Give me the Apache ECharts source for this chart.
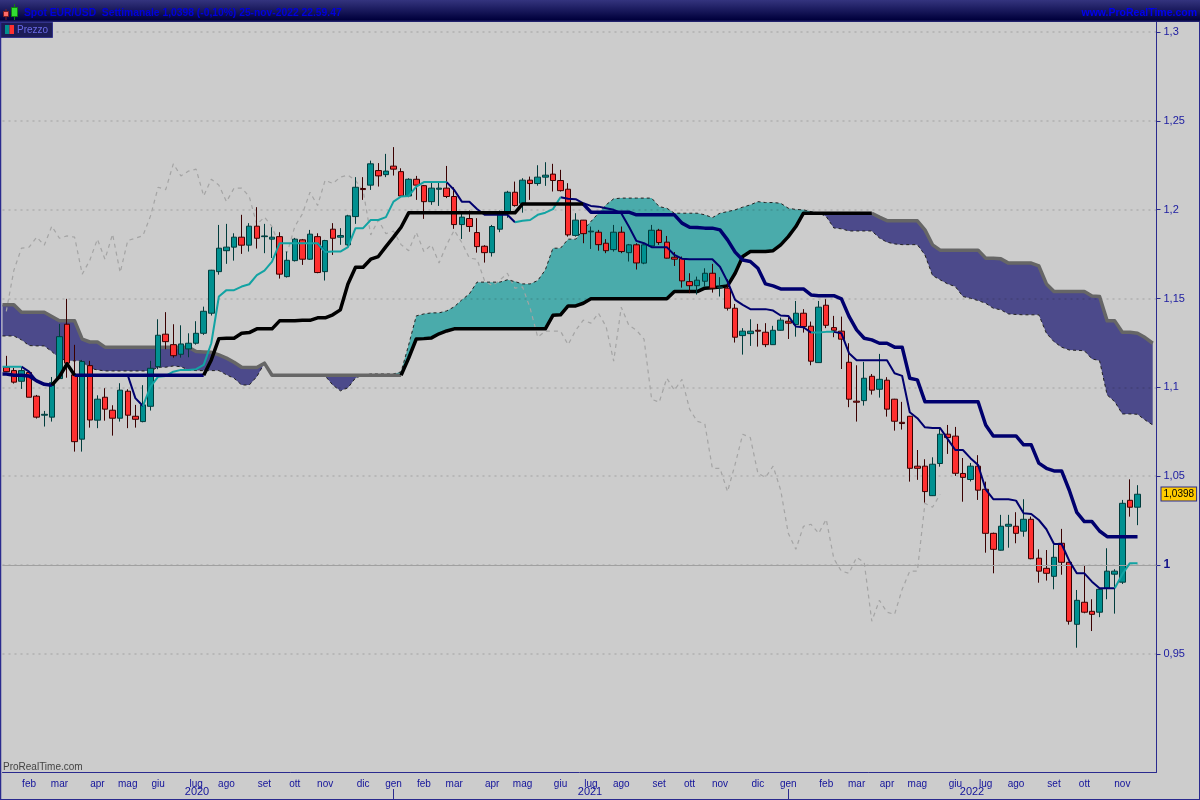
<!DOCTYPE html>
<html>
<head>
<meta charset="utf-8">
<title>Spot EUR/USD</title>
<style>
html, body { margin: 0; padding: 0; background: #cccccc; }
#chart { width: 1200px; height: 800px; }
</style>
<script src="https://cdn.jsdelivr.net/npm/echarts@6/dist/echarts.min.js"></script>
</head>
<body>
<div id="chart"></div>
<script>
// weekly candles, 150 weeks
var opens = [
1.1113,1.1094,1.1034,1.1083,1.0950,1.0843,1.0832,1.1049,1.1355,1.1070,
1.0708,1.1122,1.0815,1.0944,1.0871,1.0826,1.0978,1.0837,1.0807,1.0893,
1.1116,1.1299,1.1240,1.1186,1.1216,1.1248,1.1304,1.1417,1.1651,1.1769,
1.1789,1.1845,1.1800,1.1907,1.1848,1.1834,1.1848,1.1623,1.1713,1.1830,
1.1721,1.1848,1.1651,1.1890,1.1845,1.1802,1.1961,1.2119,1.2138,1.2220,
1.2197,1.2245,1.2214,1.2077,1.2171,1.2135,1.2045,1.2115,1.2121,1.2074,
1.1916,1.1950,1.1871,1.1794,1.1758,1.1890,1.1983,1.2098,1.2036,1.2166,
1.2147,1.2183,1.2200,1.2164,1.2115,1.1855,1.1941,1.1875,1.1873,1.1811,
1.1775,1.1873,1.1758,1.1802,1.1699,1.1796,1.1884,1.1817,1.1732,1.1724,
1.1595,1.1572,1.1597,1.1642,1.1560,1.1558,1.1445,1.1291,1.1302,1.1321,
1.1310,1.1240,1.1321,1.1372,1.1353,1.1417,1.1344,1.1139,1.1462,1.1336,
1.1316,1.1141,1.0922,1.0925,1.1062,1.0989,1.1040,1.0933,1.0803,1.0837,
1.0556,1.0556,1.0390,1.0571,1.0736,1.0725,1.0515,1.0481,1.0556,1.0426,
1.0178,1.0083,1.0218,1.0218,1.0190,1.0257,1.0038,0.9981,0.9936,1.0122,
1.0015,0.9666,0.9790,0.9739,0.9734,0.9869,0.9948,0.9903,1.0364,1.0325];
var closes = [
1.1088,1.1029,1.1094,1.0944,1.0832,1.0848,1.1026,1.1285,1.1136,1.0694,
1.1145,1.0816,1.0933,1.0877,1.0826,1.0984,1.0843,1.0820,1.0901,1.1107,
1.1293,1.1257,1.1178,1.1244,1.1248,1.1304,1.1428,1.1659,1.1783,1.1789,
1.1845,1.1800,1.1907,1.1839,1.1852,1.1845,1.1637,1.1715,1.1834,1.1721,
1.1862,1.1646,1.1826,1.1839,1.1854,1.1965,1.2126,1.2113,1.2258,1.2190,
1.2217,1.2228,1.2077,1.2171,1.2138,1.2045,1.2121,1.2121,1.2074,1.1916,
1.1958,1.1905,1.1792,1.1758,1.1905,1.1976,1.2098,1.2023,1.2166,1.2147,
1.2183,1.2194,1.2164,1.2107,1.1858,1.1941,1.1865,1.1879,1.1803,1.1769,
1.1873,1.1764,1.1802,1.1700,1.1802,1.1884,1.1815,1.1727,1.1721,1.1599,
1.1572,1.1603,1.1642,1.1558,1.1565,1.1445,1.1282,1.1316,1.1316,1.1316,
1.1240,1.1321,1.1378,1.1361,1.1417,1.1342,1.1147,1.1451,1.1349,1.1321,
1.1271,1.0933,1.0916,1.1051,1.0984,1.1045,1.0877,1.0809,1.0796,1.0544,
1.0544,1.0413,1.0567,1.0736,1.0717,1.0516,1.0493,1.0556,1.0421,1.0178,
1.0088,1.0218,1.0229,1.0178,1.0257,1.0035,0.9965,0.9953,1.0043,1.0015,
0.9683,0.9801,0.9734,0.9722,0.9863,0.9965,0.9965,1.0347,1.0325,1.0398];
var lows = [
1.1087,1.1021,1.0991,1.0944,1.0824,1.0779,1.0807,1.1047,1.1054,1.0638,
1.0638,1.0773,1.0770,1.0812,1.0728,1.0807,1.0770,1.0773,1.0803,1.0869,
1.1102,1.1214,1.1167,1.1167,1.1169,1.1240,1.1295,1.1404,1.1634,1.1695,
1.1713,1.1751,1.1764,1.1781,1.1755,1.1728,1.1612,1.1618,1.1708,1.1689,
1.1717,1.1642,1.1601,1.1745,1.1802,1.1796,1.1920,1.2055,1.2111,1.2130,
1.2183,1.2192,1.2074,1.2070,1.2055,1.1948,1.2027,1.2021,1.2065,1.1892,
1.1835,1.1875,1.1758,1.1702,1.1736,1.1873,1.1954,1.2017,1.1983,1.2055,
1.2135,1.2134,1.2102,1.2102,1.1848,1.1848,1.1811,1.1779,1.1769,1.1755,
1.1764,1.1755,1.1708,1.1663,1.1693,1.1792,1.1802,1.1725,1.1683,1.1561,
1.1530,1.1522,1.1567,1.1533,1.1511,1.1432,1.1252,1.1184,1.1233,1.1229,
1.1226,1.1239,1.1319,1.1272,1.1285,1.1308,1.1124,1.1137,1.1333,1.1282,
1.1103,1.0888,1.0807,1.0897,1.0959,1.0942,1.0835,1.0756,1.0762,1.0469,
1.0479,1.0351,1.0388,1.0553,1.0625,1.0501,1.0356,1.0470,1.0366,1.0069,
0.9953,1.0081,1.0097,1.0122,1.0159,1.0032,0.9900,0.9912,0.9863,0.9945,
0.9664,0.9534,0.9728,0.9628,0.9706,0.9807,0.9726,0.9893,1.0272,1.0224];
var highs = [
1.1177,1.1109,1.1115,1.1092,1.0957,1.0867,1.1058,1.1357,1.1498,1.1239,
1.1154,1.1149,1.0955,1.0995,1.0899,1.1023,1.0989,1.0901,1.1012,1.1149,
1.1383,1.1423,1.1355,1.1349,1.1304,1.1372,1.1454,1.1661,1.1914,1.1920,
1.1867,1.1971,1.1924,1.2014,1.1920,1.1901,1.1873,1.1764,1.1841,1.1835,
1.1886,1.1867,1.1830,1.1924,1.1896,1.1971,1.2183,1.2183,1.2276,1.2262,
1.2314,1.2352,1.2233,1.2177,1.2190,1.2139,1.2158,1.2158,1.2246,1.2126,
1.1989,1.1995,1.1952,1.1800,1.1914,1.1995,1.2106,1.2158,1.2177,1.2186,
1.2250,1.2267,1.2258,1.2224,1.2149,1.1980,1.1942,1.1905,1.1886,1.1834,
1.1914,1.1905,1.1807,1.1811,1.1805,1.1914,1.1892,1.1852,1.1761,1.1736,
1.1642,1.1623,1.1670,1.1695,1.1620,1.1608,1.1469,1.1333,1.1383,1.1357,
1.1361,1.1346,1.1392,1.1395,1.1486,1.1440,1.1370,1.1486,1.1496,1.1402,
1.1398,1.1248,1.1124,1.1143,1.1075,1.1188,1.1057,1.0935,1.0918,1.0839,
1.0647,1.0595,1.0606,1.0766,1.0788,1.0777,1.0602,1.0574,1.0618,1.0469,
1.0182,1.0282,1.0282,1.0297,1.0370,1.0272,1.0088,1.0084,1.0113,1.0203,
1.0017,0.9859,0.9998,0.9807,0.9871,1.0094,0.9976,1.0366,1.0482,1.0449];

// ichimoku lines
var tenkan = [
1.1116,1.1116,1.1116,1.1088,1.1036,1.1017,1.1012,1.1060,1.1132,1.1068,
1.1068,1.1068,1.1068,1.1068,1.1068,1.1068,1.1068,1.0939,1.0895,1.1004,
1.1060,1.1064,1.1088,1.1098,1.1098,1.1102,1.1126,1.1248,1.1511,1.1547,
1.1547,1.1567,1.1580,1.1631,1.1657,1.1708,1.1811,1.1811,1.1811,1.1811,
1.1811,1.1811,1.1761,1.1764,1.1764,1.1789,1.1896,1.1896,1.1942,1.1942,
1.1958,1.2045,1.2074,1.2077,1.2130,1.2155,1.2155,1.2155,1.2155,1.2111,
1.2045,1.2044,1.2004,1.1971,1.1971,1.1971,1.1971,1.1929,1.1938,1.1942,
1.1971,1.1983,1.2003,1.2070,1.2061,1.2059,1.2036,1.2021,1.2017,1.2008,
1.1999,1.1980,1.1905,1.1824,1.1811,1.1789,1.1789,1.1789,1.1745,1.1724,
1.1721,1.1721,1.1721,1.1721,1.1679,1.1595,1.1492,1.1464,1.1440,1.1440,
1.1440,1.1432,1.1404,1.1402,1.1342,1.1338,1.1308,1.1308,1.1312,1.1312,
1.1304,1.1192,1.1152,1.1152,1.1152,1.1152,1.1152,1.1079,1.1064,1.0860,
1.0826,1.0775,1.0771,1.0771,1.0708,1.0647,1.0647,1.0601,1.0563,1.0426,
1.0370,1.0370,1.0370,1.0362,1.0291,1.0287,1.0253,1.0201,1.0118,1.0118,
1.0024,0.9953,0.9953,0.9906,0.9869,0.9869,0.9869,0.9948,1.0010,1.0010];
var kijun = [
1.1075,1.1068,1.1068,1.1064,1.1036,1.1017,1.1012,1.1060,1.1132,1.1068,
1.1068,1.1068,1.1068,1.1068,1.1068,1.1068,1.1068,1.1068,1.1068,1.1068,
1.1068,1.1068,1.1068,1.1068,1.1068,1.1068,1.1068,1.1154,1.1274,1.1276,
1.1276,1.1304,1.1308,1.1329,1.1329,1.1329,1.1374,1.1374,1.1374,1.1377,
1.1377,1.1391,1.1391,1.1408,1.1436,1.1582,1.1676,1.1676,1.1721,1.1736,
1.1792,1.1845,1.1901,1.1982,1.1982,1.1982,1.1982,1.1982,1.1982,1.1982,
1.1982,1.1982,1.1982,1.1982,1.1982,1.1982,1.1982,1.1982,1.2032,1.2032,
1.2032,1.2032,1.2032,1.2032,1.2032,1.2032,1.2032,1.1986,1.1986,1.1986,
1.1986,1.1986,1.1986,1.1971,1.1971,1.1971,1.1971,1.1971,1.1971,1.1924,
1.1901,1.1899,1.1896,1.1896,1.1886,1.1830,1.1761,1.1717,1.1708,1.1670,
1.1582,1.1571,1.1554,1.1554,1.1554,1.1554,1.1520,1.1516,1.1516,1.1516,
1.1498,1.1399,1.1323,1.1276,1.1267,1.1248,1.1248,1.1226,1.1226,1.1051,
1.1042,1.0919,1.0919,1.0919,1.0919,1.0919,1.0919,1.0919,1.0919,1.0788,
1.0726,1.0726,1.0726,1.0726,1.0676,1.0676,1.0573,1.0544,1.0529,1.0529,
1.0422,1.0296,1.0244,1.0244,1.0191,1.0159,1.0159,1.0159,1.0159,1.0159];
var spanA = [
1.1289,1.1289,1.1267,1.1235,1.1233,1.1233,1.1201,1.1164,1.1149,1.1149,
1.1149,1.1107,1.1098,1.1092,1.1092,1.1092,1.1092,1.1092,1.1092,1.1092,
1.1113,1.1113,1.1120,1.1116,1.1098,1.1094,1.1094,1.1094,1.1094,1.1070,
1.1051,1.1013,1.1013,1.1060,1.1136,1.1068,1.1068,1.1068,1.1068,1.1068,
1.1068,1.1068,1.1064,1.1013,1.0980,1.0997,1.1053,1.1068,1.1075,1.1075,
1.1075,1.1075,1.1087,1.1239,1.1402,1.1413,1.1419,1.1419,1.1430,1.1453,
1.1492,1.1526,1.1592,1.1592,1.1592,1.1592,1.1605,1.1595,1.1582,1.1582,
1.1601,1.1661,1.1783,1.1783,1.1834,1.1834,1.1886,1.1933,1.1980,1.2027,
1.2061,1.2065,1.2065,1.2065,1.2065,1.2065,1.2017,1.2008,1.1980,1.1980,
1.1980,1.1980,1.1971,1.1955,1.1980,1.1989,1.1999,1.2014,1.2027,1.2045,
1.2040,1.2040,1.2036,1.2008,1.2001,1.1999,1.1989,1.1982,1.1961,1.1897,
1.1892,1.1880,1.1880,1.1880,1.1880,1.1841,1.1817,1.1807,1.1803,1.1803,
1.1803,1.1745,1.1629,1.1605,1.1582,1.1567,1.1511,1.1501,1.1488,1.1473,
1.1445,1.1436,1.1413,1.1410,1.1408,1.1408,1.1408,1.1304,1.1257,1.1226,
1.1210,1.1208,1.1206,1.1160,1.1150,1.0957,1.0919,1.0850,1.0850,1.0848,
1.0816,1.0788];
var spanB = [
1.1464,1.1464,1.1423,1.1423,1.1423,1.1423,1.1399,1.1374,1.1374,1.1374,
1.1271,1.1255,1.1255,1.1226,1.1226,1.1226,1.1226,1.1226,1.1226,1.1226,
1.1226,1.1226,1.1226,1.1226,1.1226,1.1201,1.1199,1.1197,1.1182,1.1164,
1.1141,1.1113,1.1111,1.1111,1.1136,1.1068,1.1068,1.1068,1.1068,1.1068,
1.1068,1.1068,1.1068,1.1068,1.1068,1.1068,1.1068,1.1068,1.1068,1.1068,
1.1068,1.1068,1.1068,1.1165,1.1272,1.1274,1.1278,1.1301,1.1317,1.1329,
1.1329,1.1329,1.1329,1.1329,1.1329,1.1329,1.1329,1.1329,1.1329,1.1329,
1.1329,1.1329,1.1405,1.1408,1.1458,1.1458,1.1473,1.1498,1.1498,1.1498,
1.1498,1.1498,1.1498,1.1498,1.1498,1.1498,1.1498,1.1498,1.1539,1.1539,
1.1539,1.1539,1.1558,1.1561,1.1565,1.1571,1.1642,1.1736,1.1764,1.1764,
1.1764,1.1769,1.1802,1.1848,1.1905,1.1980,1.1980,1.1980,1.1980,1.1980,
1.1980,1.1980,1.1980,1.1980,1.1980,1.1958,1.1938,1.1938,1.1938,1.1938,
1.1937,1.1886,1.1802,1.1772,1.1772,1.1772,1.1772,1.1772,1.1772,1.1727,
1.1727,1.1723,1.1699,1.1699,1.1699,1.1699,1.1683,1.1582,1.1539,1.1539,
1.1539,1.1539,1.1539,1.1514,1.1511,1.1374,1.1374,1.1310,1.1310,1.1304,
1.1280,1.1248];
var lagging = [
1.1428,1.1659,1.1783,1.1789,1.1845,1.1800,1.1907,1.1839,1.1852,1.1845,
1.1637,1.1715,1.1834,1.1721,1.1862,1.1646,1.1826,1.1839,1.1854,1.1965,
1.2126,1.2113,1.2258,1.2190,1.2217,1.2228,1.2077,1.2171,1.2138,1.2045,
1.2121,1.2121,1.2074,1.1916,1.1958,1.1905,1.1792,1.1758,1.1905,1.1976,
1.2098,1.2023,1.2166,1.2147,1.2183,1.2194,1.2164,1.2107,1.1858,1.1941,
1.1865,1.1879,1.1803,1.1769,1.1873,1.1764,1.1802,1.1700,1.1802,1.1884,
1.1815,1.1727,1.1721,1.1599,1.1572,1.1603,1.1642,1.1558,1.1565,1.1445,
1.1282,1.1316,1.1316,1.1316,1.1240,1.1321,1.1378,1.1361,1.1417,1.1342,
1.1147,1.1451,1.1349,1.1321,1.1271,1.0933,1.0916,1.1051,1.0984,1.1045,
1.0877,1.0809,1.0796,1.0544,1.0544,1.0413,1.0567,1.0736,1.0717,1.0516,
1.0493,1.0556,1.0421,1.0178,1.0088,1.0218,1.0229,1.0178,1.0257,1.0035,
0.9965,0.9953,1.0043,1.0015,0.9683,0.9801,0.9734,0.9722,0.9863,0.9965,
0.9965,1.0347,1.0325,1.0398];

// which stretch of each line has which colour (week index, inclusive)
var tenkanTealRanges = [[-1,2],[18,41],[42,58],[67,73],[106,109],[146,149]];
var tenkanNavyRanges = [[2,18],[41,42],[58,67],[73,106],[109,146]];
var kijunBlackRanges = [[6,9],[26,76]];
var kijunNavyRanges = [[-1,6],[9,26],[76,149]];
var spanBBlackRanges = [[52,114]];
var spanBGreyRanges = [[-1,52],[114,151]];

// x axis: the week where each month starts
var monthWeeks = [3,7,12,16,20,25,29,34,38,42,47,51,55,59,64,68,73,77,81,86,90,94,99,103,108,112,116,120,125,129,133,138,142,147];
var monthNames = ['feb','mar','apr','mag','giu','lug','ago','set','ott','nov','dic','gen','feb','mar','apr','mag','giu','lug','ago','set','ott','nov','dic','gen','feb','mar','apr','mag','giu','lug','ago','set','ott','nov'];
var lastTickWeek = 151;
var weekCount = 152;
var priceTicks = [0.95, 1, 1.05, 1.1, 1.15, 1.2, 1.25, 1.3];
var gridTicks = [0.95, 1.05, 1.1, 1.15, 1.2, 1.25, 1.3];

var categories = [];
for (var w = 0; w < weekCount; w++) categories.push('w' + w);

var candles = opens.map(function (o, i) { return [o, closes[i], lows[i], highs[i]]; });

// lines run on a hidden value axis over the same weeks, so they can start at the plot's left edge
function points(values, ranges) {
    var out = [[-0.5, inRanges(-1, ranges) ? values[0] : null]];
    values.forEach(function (v, i) {
        out.push([i, inRanges(i, ranges) ? v : null]);
    });
    return out;
}
function inRanges(i, ranges) {
    if (!ranges) return true;
    for (var r = 0; r < ranges.length; r++) {
        if (i >= ranges[r][0] && i <= ranges[r][1]) return true;
    }
    return false;
}

// cloud: one polygon per run of weeks where span A stays above or below span B
function isBull(i) { return spanA[i] + spanA[i + 1] >= spanB[i] + spanB[i + 1]; }
var cloudRuns = [];
for (var s = 0; s < spanA.length - 1; s++) {
    var last = cloudRuns[cloudRuns.length - 1];
    if (last && last[2] === isBull(s)) last[1] = s + 1;
    else cloudRuns.push([s, s + 1, isBull(s)]);
}
var cloudUpColor = '#4aabab';
var cloudDownColor = '#4c4a8b';

function renderCloud(params, api) {
    var run = cloudRuns[params.dataIndex];
    var upper = [], lower = [];
    if (run[0] === 0) {
        upper.push(api.coord([-0.5, spanA[0]]));
        lower.push(api.coord([-0.5, spanB[0]]));
    }
    for (var k = run[0]; k <= run[1]; k++) {
        upper.push(api.coord([k, spanA[k]]));
        lower.push(api.coord([k, spanB[k]]));
    }
    return {
        type: 'polygon',
        shape: { points: upper.concat(lower.reverse()) },
        style: { fill: run[2] ? cloudUpColor : cloudDownColor }
    };
}

function lineSeries(name, data, color, width, z, dash) {
    return {
        name: name, type: 'line', data: data, z: z, xAxisIndex: 1,
        symbol: 'none', silent: true, connectNulls: false,
        lineStyle: { color: color, width: width, type: dash || 'solid', join: 'round' }
    };
}

var blue = '#2a2a8e';
var labelFont = 'Liberation Sans, Arial, sans-serif';

var chart = echarts.init(document.getElementById('chart'));
var option = {
    animation: false,
    backgroundColor: '#cccccc',
    grid: { left: 2.5, right: 43.5, top: 22, bottom: 28 },
    xAxis: [{
        type: 'category',
        data: categories,
        boundaryGap: true,
        axisLine: { onZero: false, lineStyle: { color: blue, width: 1 } },
        axisTick: {
            alignWithLabel: true, length: 3, lineStyle: { color: blue },
            interval: function (i) { return monthWeeks.indexOf(i) >= 0 || i === lastTickWeek; }
        },
        axisLabel: {
            interval: function (i) { return monthWeeks.indexOf(i) >= 0; },
            formatter: function (v, i) { return monthNames[monthWeeks.indexOf(i)] || ''; },
            color: '#12129a', fontFamily: labelFont, fontSize: 10, margin: 7, hideOverlap: false
        },
        splitLine: { show: false }
    }, {
        type: 'value', show: false, min: -0.5, max: weekCount - 0.5,
        splitLine: { show: false }
    }],
    yAxis: {
        type: 'value',
        position: 'right',
        min: 0.88345,
        max: 1.30563,
        scale: true,
        z: 1,
        axisLine: { show: true, onZero: false, lineStyle: { color: blue, width: 1 } },
        axisTick: { show: true, length: 4, customValues: priceTicks, lineStyle: { color: blue } },
        axisLabel: {
            customValues: priceTicks,
            margin: 7,
            color: '#1a1aa0', fontFamily: labelFont, fontSize: 11,
            formatter: function (v) {
                return v === 1 ? '{one|1}' : String(v).replace('.', ',');
            },
            rich: { one: { color: '#10108a', fontWeight: 'bold', fontFamily: labelFont, fontSize: 12 } }
        },
        splitLine: {
            show: true, customValues: gridTicks,
            lineStyle: { color: 'rgba(0,0,0,0.1)', type: [2, 4], width: 2 }
        }
    },
    series: [
        {
            name: 'cloud', type: 'custom', xAxisIndex: 1, z: 0, silent: true,
            renderItem: renderCloud,
            encode: { x: [0, 1] },
            data: cloudRuns.map(function (r) { return [r[0], r[1]]; })
        },
        {
            name: 'lagging', type: 'line', data: lagging, z: 2,
            symbol: 'none', silent: true,
            lineStyle: { color: '#a4a4a4', width: 1.2, type: [4, 4] }
        },
        Object.assign(lineSeries('spanA', points(spanA), '#222222', 1, 2, [3, 3]), {
            markLine: {
                silent: true, symbol: 'none', animation: false,
                label: { show: false },
                lineStyle: { color: '#a0a0a0', width: 1, type: 'solid' },
                data: [{ yAxis: 1 }]
            }
        }),
        lineSeries('spanBGrey', points(spanB, spanBGreyRanges), '#666666', 3.5, 3),
        lineSeries('spanBBlack', points(spanB, spanBBlackRanges), '#000000', 3.5, 3),
        {
            name: 'Prezzo', type: 'candlestick', data: candles, z: 4, barWidth: 6,
            silent: true,
            itemStyle: {
                color: '#009090', color0: '#ff3030',
                borderColor: '#003c3c', borderColor0: '#3a0000', borderWidth: 1
            },
            markLine: {
                silent: true, symbol: 'none', animation: false,
                lineStyle: { width: 0 },
                data: [{
                    yAxis: closes[closes.length - 1],
                    label: {
                        show: true, position: 'end', distance: 5,
                        formatter: function () { return String(closes[closes.length - 1]).replace('.', ','); },
                        color: '#000000', fontFamily: labelFont, fontSize: 10,
                        backgroundColor: '#ffcc00', borderColor: blue, borderWidth: 1, padding: [2, 2, 1, 2]
                    }
                }]
            }
        },
        lineSeries('tenkanNavy', points(tenkan, tenkanNavyRanges), '#00006e', 2, 5),
        lineSeries('tenkanTeal', points(tenkan, tenkanTealRanges), '#12a3a3', 2, 5),
        lineSeries('kijunNavy', points(kijun, kijunNavyRanges), '#00006e', 3.5, 6),
        lineSeries('kijunBlack', points(kijun, kijunBlackRanges), '#000000', 3.5, 6)
    ],
    graphic: [
        // title bar
        { type: 'rect', z: 10, shape: { x: 0, y: 0, width: 1200, height: 22 },
          style: { fill: new echarts.graphic.LinearGradient(0, 0, 0, 1, [
              { offset: 0, color: '#34347e' }, { offset: 0.9, color: '#00003c' }, { offset: 1, color: '#2a2a7a' }]) } },
        { type: 'line', z: 11, shape: { x1: 6, y1: 9, x2: 6, y2: 20 }, style: { stroke: '#802020' } },
        { type: 'rect', z: 11, shape: { x: 3.5, y: 11.5, width: 5, height: 5 }, style: { fill: '#ff6a6a', stroke: '#802020' } },
        { type: 'line', z: 11, shape: { x1: 14.5, y1: 4, x2: 14.5, y2: 20 }, style: { stroke: '#108010' } },
        { type: 'rect', z: 11, shape: { x: 11.5, y: 7.5, width: 6, height: 9 }, style: { fill: '#33dd33', stroke: '#108010' } },
        { type: 'text', z: 11, x: 24, y: 13, style: { text: 'Spot EUR/USD  Settimanale 1,0398 (-0,10%) 25-nov-2022 22.59.47',
          fill: '#0000dc', fontFamily: labelFont, fontSize: 10.3, fontWeight: 'bold', verticalAlign: 'middle' } },
        { type: 'text', z: 11, x: 1197, y: 13, style: { text: 'www.ProRealTime.com', textAlign: 'right',
          fill: '#0000f0', fontFamily: labelFont, fontSize: 10.5, fontWeight: 'bold', verticalAlign: 'middle' } },
        // price tab
        { type: 'rect', z: 11, shape: { x: 0.5, y: 22.5, width: 52, height: 15 }, style: { fill: '#1c1c58', stroke: '#33338a' } },
        { type: 'rect', z: 12, shape: { x: 5, y: 25, width: 4.5, height: 9 }, style: { fill: '#009090' } },
        { type: 'rect', z: 12, shape: { x: 9.5, y: 25, width: 4.5, height: 9 }, style: { fill: '#ff3030' } },
        { type: 'text', z: 12, x: 17, y: 30, style: { text: 'Prezzo', fill: '#6a6ae6', fontFamily: labelFont, fontSize: 10, verticalAlign: 'middle' } },
        // frame
        { type: 'line', z: 11, shape: { x1: 0.5, y1: 22, x2: 0.5, y2: 800 }, style: { stroke: blue, lineWidth: 1.5 } },
        { type: 'line', z: 11, shape: { x1: 1199.5, y1: 22, x2: 1199.5, y2: 800 }, style: { stroke: blue } },
        { type: 'line', z: 11, shape: { x1: 0, y1: 799.5, x2: 1200, y2: 799.5 }, style: { stroke: blue } },
        { type: 'line', z: 11, shape: { x1: 393.5, y1: 789, x2: 393.5, y2: 799 }, style: { stroke: blue } },
        { type: 'line', z: 11, shape: { x1: 788.5, y1: 789, x2: 788.5, y2: 799 }, style: { stroke: blue } },
        // years and watermark
        { type: 'text', z: 11, x: 197, y: 792, style: { text: '2020', textAlign: 'center', fill: '#12129a', fontFamily: labelFont, fontSize: 11, verticalAlign: 'middle' } },
        { type: 'text', z: 11, x: 590, y: 792, style: { text: '2021', textAlign: 'center', fill: '#12129a', fontFamily: labelFont, fontSize: 11, verticalAlign: 'middle' } },
        { type: 'text', z: 11, x: 972, y: 792, style: { text: '2022', textAlign: 'center', fill: '#12129a', fontFamily: labelFont, fontSize: 11, verticalAlign: 'middle' } },
        { type: 'text', z: 11, x: 3, y: 767, style: { text: 'ProRealTime.com', fill: '#444444', fontFamily: labelFont, fontSize: 10, verticalAlign: 'middle' } }
    ]
};
chart.setOption(option);
</script>
</body>
</html>
